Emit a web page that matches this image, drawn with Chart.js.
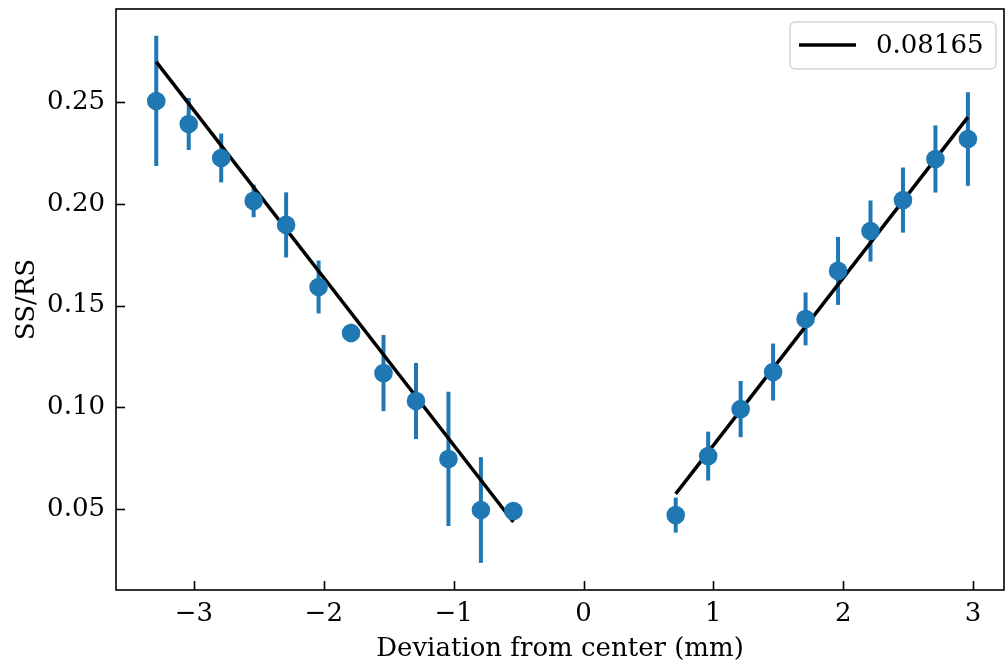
<!DOCTYPE html>
<html>
<head>
<meta charset="utf-8">
<script src="https://cdn.jsdelivr.net/npm/chart.js@4.4.1/dist/chart.umd.min.js"></script>
<style>
  html, body { margin: 0; padding: 0; background: #fff; }
  #wrap { width: 1005px; height: 665px; }
</style>
</head>
<body>
<div id="wrap"><canvas id="c" width="1005" height="665"></canvas></div>
<script>
// ---- data ----
const xLeft   = [-3.29, -3.04, -2.79, -2.54, -2.29, -2.04, -1.79, -1.54, -1.29, -1.04, -0.79, -0.54];
const yLeft   = [0.2505, 0.2392, 0.2225, 0.2014, 0.1896, 0.1591, 0.1365, 0.1168, 0.1031, 0.0746, 0.0495, 0.0490];
const errLeft = [0.032, 0.0128, 0.012, 0.008, 0.016, 0.013, 0.0045, 0.0187, 0.0187, 0.033, 0.026, 0.003];

const xRight   = [0.71, 0.96, 1.21, 1.46, 1.71, 1.96, 2.21, 2.46, 2.71, 2.96];
const yRight   = [0.0470, 0.0760, 0.0991, 0.1173, 0.1434, 0.1670, 0.1866, 0.2018, 0.2220, 0.2318];
const errRight = [0.0086, 0.012, 0.0138, 0.014, 0.013, 0.0167, 0.015, 0.016, 0.0165, 0.023];

const fitLeftX  = [-3.29, -0.54];
const fitLeftY  = [0.2697, 0.0436];
const fitRightX = [0.71, 2.96];
const fitRightY = [0.0574, 0.2426];
const fitLabel  = "0.08165";

const xTickValues = [-3, -2, -1, 0, 1, 2, 3];
const yTickValues = [0.05, 0.10, 0.15, 0.20, 0.25];
const xTitle = "Deviation from center (mm)";
const yTitle = "SS/RS";

// ---- styling ----
const BLUE = "#1f77b4";
const FONT = "'DejaVu Serif', serif";
const FS = 26;

const pts = (xs, ys) => xs.map((x, i) => ({ x: x, y: ys[i] }));

const errorBarPlugin = {
  id: "errorBars",
  beforeDatasetsDraw(chart) {
    const ctx = chart.ctx, xs = chart.scales.x, ys = chart.scales.y;
    ctx.save();
    ctx.strokeStyle = BLUE;
    ctx.lineWidth = 4;
    ctx.lineCap = "butt";
    const draw = (X, Y, E) => {
      X.forEach((x, i) => {
        const px = xs.getPixelForValue(x);
        ctx.beginPath();
        ctx.moveTo(px, ys.getPixelForValue(Y[i] - E[i]));
        ctx.lineTo(px, ys.getPixelForValue(Y[i] + E[i]));
        ctx.stroke();
      });
    };
    draw(xLeft, yLeft, errLeft);
    draw(xRight, yRight, errRight);
    ctx.restore();
  }
};

const framePlugin = {
  id: "frame",
  afterDraw(chart) {
    const ctx = chart.ctx, a = chart.chartArea;
    const xs = chart.scales.x, ys = chart.scales.y;
    ctx.save();
    ctx.strokeStyle = "#000";
    ctx.lineWidth = 1.6;
    // inward ticks
    xs.ticks.forEach(t => {
      const px = Math.round(xs.getPixelForValue(t.value)) + 0.5;
      ctx.beginPath(); ctx.moveTo(px, a.bottom); ctx.lineTo(px, a.bottom - 9); ctx.stroke();
    });
    ys.ticks.forEach(t => {
      const py = Math.round(ys.getPixelForValue(t.value)) + 0.5;
      ctx.beginPath(); ctx.moveTo(a.left, py); ctx.lineTo(a.left + 9, py); ctx.stroke();
    });
    ctx.strokeRect(a.left, a.top, a.right - a.left, a.bottom - a.top);

    // legend
    const bx = 790, by = 22, bw = 206, bh = 47, r = 5;
    ctx.fillStyle = "rgba(255,255,255,0.8)";
    ctx.strokeStyle = "#d6d6d6";
    ctx.lineWidth = 1.5;
    ctx.beginPath();
    ctx.moveTo(bx + r, by);
    ctx.arcTo(bx + bw, by, bx + bw, by + bh, r);
    ctx.arcTo(bx + bw, by + bh, bx, by + bh, r);
    ctx.arcTo(bx, by + bh, bx, by, r);
    ctx.arcTo(bx, by, bx + bw, by, r);
    ctx.closePath();
    ctx.fill(); ctx.stroke();
    ctx.strokeStyle = "#000";
    ctx.lineWidth = 3.5;
    ctx.beginPath(); ctx.moveTo(799, 45); ctx.lineTo(856, 45); ctx.stroke();
    ctx.fillStyle = "#000";
    ctx.font = FS + "px " + FONT;
    ctx.textBaseline = "middle";
    ctx.textAlign = "left";
    ctx.fillText(chart.data.datasets[2].label, 876, 46);
    ctx.restore();
  }
};

const noPad = s => { s.paddingLeft = 0; s.paddingRight = 0; s.paddingTop = 0; s.paddingBottom = 0; };

new Chart(document.getElementById("c"), {
  type: "scatter",
  data: {
    datasets: [
      { label: "data left", data: pts(xLeft, yLeft), backgroundColor: BLUE, borderColor: BLUE,
        pointRadius: 9.3, pointHoverRadius: 9.3, borderWidth: 0, order: 1 },
      { label: "data right", data: pts(xRight, yRight), backgroundColor: BLUE, borderColor: BLUE,
        pointRadius: 9.3, pointHoverRadius: 9.3, borderWidth: 0, order: 1 },
      { type: "line", label: fitLabel, data: pts(fitLeftX, fitLeftY), borderColor: "#000",
        borderWidth: 3.5, pointRadius: 0, fill: false, order: 2 },
      { type: "line", label: "fit right", data: pts(fitRightX, fitRightY), borderColor: "#000",
        borderWidth: 3.5, pointRadius: 0, fill: false, order: 2 }
    ]
  },
  options: {
    responsive: false,
    animation: false,
    events: [],
    layout: { autoPadding: false, padding: { left: 0, top: 9, right: 1, bottom: 0 } },
    plugins: { legend: { display: false }, tooltip: { enabled: false } },
    scales: {
      x: {
        type: "linear", min: -3.6, max: 3.238,
        grid: { display: false, drawTicks: false }, border: { display: false },
        afterBuildTicks: s => { s.ticks = xTickValues.map(v => ({ value: v })); },
        afterFit: s => { s.height = 75; noPad(s); },
        ticks: {
          color: "#000", padding: 9, maxRotation: 0,
          font: { family: FONT, size: FS },
          callback: v => (v < 0 ? "\u2212" + Math.abs(v) : String(v))
        },
        title: { display: true, text: xTitle, color: "#000", font: { family: FONT, size: FS },
                 padding: { top: 0, bottom: 0 } }
      },
      y: {
        type: "linear", min: 0.0102, max: 0.2957,
        grid: { display: false, drawTicks: false }, border: { display: false },
        afterBuildTicks: s => { s.ticks = yTickValues.map(v => ({ value: v })); },
        afterFit: s => { s.width = 116; noPad(s); },
        ticks: {
          color: "#000", padding: 11,
          font: { family: FONT, size: FS },
          callback: v => Number(v).toFixed(2)
        },
        title: { display: true, text: yTitle, color: "#000", font: { family: FONT, size: FS },
                 padding: { top: 12, bottom: 0 } }
      }
    }
  },
  plugins: [errorBarPlugin, framePlugin]
});
</script>
</body>
</html>
